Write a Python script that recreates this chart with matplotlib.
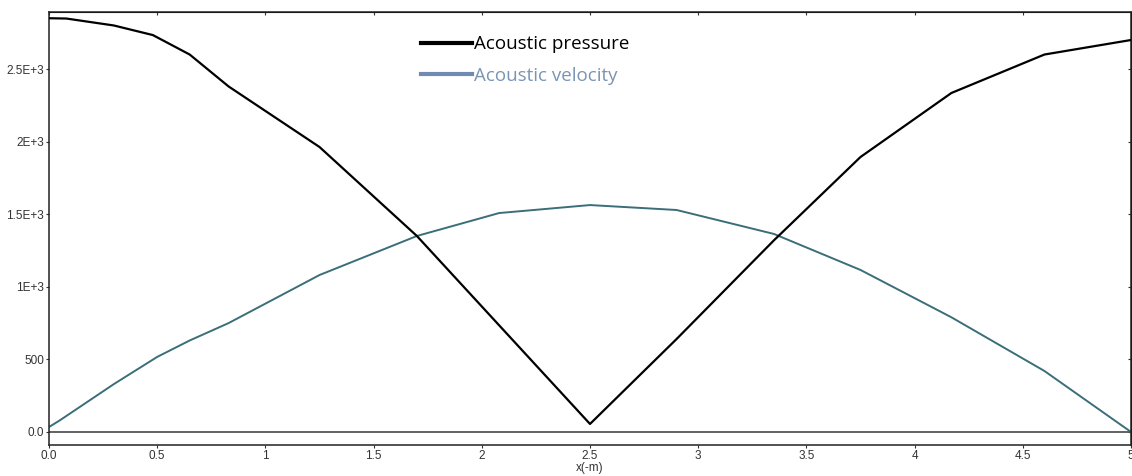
import matplotlib.pyplot as plt
from matplotlib.lines import Line2D

# acoustic pressure along the duct
x_p = [0.0, 0.08, 0.3, 0.48, 0.65, 0.83, 1.25, 1.7, 2.5, 2.9, 3.35, 3.75, 4.17, 4.6, 5.0]
p = [2850, 2848, 2800, 2734, 2600, 2380, 1963, 1350, 55, 640, 1320, 1894, 2335, 2600, 2700]

# acoustic velocity along the duct
x_v = [0.0, 0.05, 0.3, 0.5, 0.65, 0.83, 1.25, 1.7, 2.08, 2.5, 2.9, 3.35, 3.75, 4.17, 4.6, 5.0]
v = [34, 80, 330, 517, 630, 750, 1081, 1350, 1508, 1563, 1529, 1364, 1116, 790, 420, 0]

xticks = [0, 0.5, 1, 1.5, 2, 2.5, 3, 3.5, 4, 4.5, 5]
xlabels = ["0.0", "0.5", "1", "1.5", "2", "2.5", "3", "3.5", "4", "4.5", "5"]
yticks = [0, 500, 1000, 1500, 2000, 2500]
ylabels = ["0.0", "500", "1E+3", "1.5E+3", "2E+3", "2.5E+3"]

plt.rcParams['font.family'] = ['Liberation Sans', 'DejaVu Sans']

fig = plt.figure(figsize=(11.32, 4.76), dpi=100)
ax = fig.add_axes([0.0433, 0.0651, 0.9558, 0.9097])

ax.axhline(0, color='#555555', lw=1.3, zorder=1)
ax.plot(x_p, p, color='black', lw=1.6, zorder=3)
ax.plot(x_v, v, color='#3a6e78', lw=1.4, zorder=2)

ax.set_xlim(0, 5)
ax.set_ylim(-90, 2893)
ax.set_xticks(xticks, xlabels)
ax.set_yticks(yticks, ylabels)
ax.tick_params(length=2.5, width=0.8, labelsize=8.5, colors='#333333', pad=1)
for s in ax.spines.values():
    s.set_linewidth(1.1)
    s.set_color('#222222')

# small inward ticks on the top and right frame
top = ax.secondary_xaxis('top')
top.set_xticks(xticks)
top.tick_params(direction='in', length=2.5, width=0.8, labeltop=False, colors='#333333')
right = ax.secondary_yaxis('right')
right.set_yticks(yticks)
right.tick_params(direction='in', length=2.5, width=0.8, labelright=False, colors='#333333')

ax.set_xlabel("x(-m)", fontsize=8.5, color='#333333', labelpad=0)

# legend lines use lighter colours than the plotted curves
handles = [Line2D([], [], color='black', lw=3),
           Line2D([], [], color='#6f8cb0', lw=3)]
leg = ax.legend(handles, ["Acoustic pressure", "Acoustic velocity"],
                loc='upper left', bbox_to_anchor=(0.3285, 0.985), frameon=False,
                handlelength=2.7, handletextpad=0.1, labelspacing=0.72,
                prop={'family': 'Open Sans', 'size': 13.5})
leg.get_texts()[1].set_color('#7a94b4')

fig.savefig("out.png", dpi=100)
